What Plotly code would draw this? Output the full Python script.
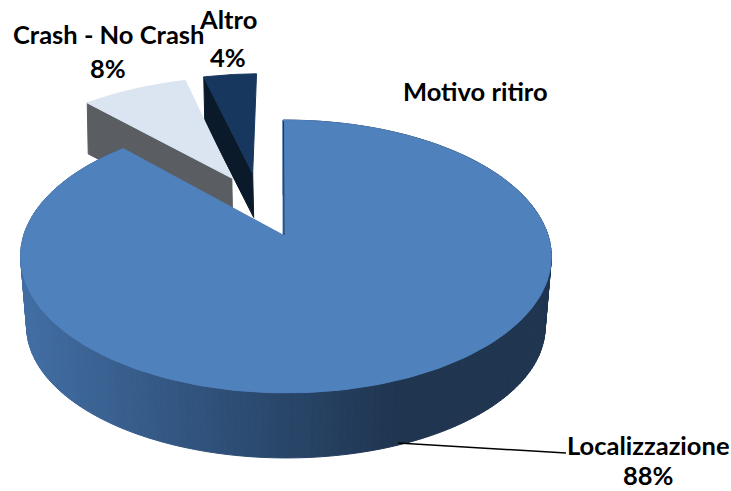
import numpy as np
import plotly.graph_objects as go

# Motivo ritiro - 3D exploded pie, plotly has no 3D pie so it is projected by hand
categories = ["Localizzazione", "Crash - No Crash", "Altro"]
values = [88, 8, 4]
chart_title = "Motivo ritiro"

face_colors = ["#4f81bd", "#dbe5f1", "#17375e"]
wall_colors = [None, "#5a5d62", "#0b1a2a"]

# perspective of the top plane (pixels)
APEX_X, APEX_Y = 283, 235
RADIUS_X, RADIUS_Y = 262, 133
PERSP_V, PERSP_U = 0.1575, 0.011

# explode offset of every slice in disc units, and bottom plane of the slice
explode = [(0, 0), (-0.21, -0.46), (-0.125, -0.50)]
bottom_plane = [(283, 306, 256, 128), (284, 286, 262, 133), (284, 279, 262, 133)]


def project(u, v, ax=APEX_X, ay=APEX_Y, rx=RADIUS_X, ry=RADIUS_Y):
    w = 1 - PERSP_V * v - PERSP_U * u
    return ax + rx * u / w, ay + ry * v / w


def polygon(x, y, color):
    return go.Scatter(x=list(x), y=list(y), mode="lines", fill="toself", fillcolor=color,
                      line=dict(color=color, width=1), hoverinfo="skip", showlegend=False)


def side_color(x):
    # shading of the round side runs from left to right
    stops_x = [21, 200, 400, 551]
    r = np.interp(x, stops_x, [66, 48, 31, 31])
    g = np.interp(x, stops_x, [110, 82, 53, 53])
    b = np.interp(x, stops_x, [164, 124, 80, 80])
    return f"rgb({r:.0f},{g:.0f},{b:.0f})"


# slice angles, clockwise from twelve o'clock
edges = np.cumsum([0] + values) / sum(values) * 2 * np.pi
slices = []
for i in range(len(values)):
    t = np.linspace(edges[i], edges[i + 1], 240 if i == 0 else 30)
    du, dv = explode[i]
    u = np.concatenate([[du], du + np.sin(t), [du]])
    v = np.concatenate([[dv], dv - np.cos(t), [dv]])
    slices.append((u, v))

fig = go.Figure()

# back slices first, main one on top
for i in [2, 1]:
    u, v = slices[i]
    tx, ty = project(u, v)
    bx, by = project(u, v, *bottom_plane[i])
    # only the cut wall facing the viewer shows: apex to first rim point
    fig.add_trace(polygon([tx[0], tx[1], bx[1], bx[0], tx[0]],
                          [ty[0], ty[1], by[1], by[0], ty[0]], wall_colors[i]))
    fig.add_trace(polygon(tx, ty, face_colors[i]))

u, v = slices[0]
tx, ty = project(u, v)
bx, by = project(u, v, *bottom_plane[0])
for j in range(1, len(u) - 2):
    fig.add_trace(polygon([tx[j], tx[j + 1], bx[j + 1], bx[j], tx[j]],
                          [ty[j], ty[j + 1], by[j + 1], by[j], ty[j]],
                          side_color((tx[j] + tx[j + 1]) / 2)))
fig.add_trace(polygon(tx, ty, face_colors[0]))
# thin dark edge of the cut at twelve o'clock
fig.add_trace(go.Scatter(x=[tx[1] + 0.5, tx[0] + 1], y=[ty[1] + 1, ty[0]], mode="lines",
                         line=dict(color="#1f3550", width=1), hoverinfo="skip", showlegend=False))

# leader line of the big slice
fig.add_trace(go.Scatter(x=[398, 560, 566], y=[443, 453, 453], mode="lines",
                         line=dict(color="black", width=1.5), hoverinfo="skip", showlegend=False))

label_font = dict(family="Lato", size=25.5, color="black", weight="bold")
label_pos = [(648, 445, 475), (108, 34, 68), (228, 19, 57)]
for i, (x, y1, y2) in enumerate(label_pos):
    fig.add_annotation(x=x, y=y1, text=categories[i], showarrow=False, font=label_font)
    fig.add_annotation(x=x, y=y2, text=f"{values[i]}%", showarrow=False, font=label_font)
fig.add_annotation(x=475, y=91, text=chart_title, showarrow=False, font=label_font)

fig.update_layout(
    width=731, height=491, margin=dict(l=0, r=0, t=0, b=0),
    paper_bgcolor="white", plot_bgcolor="white", showlegend=False,
    xaxis=dict(range=[0, 731], visible=False),
    yaxis=dict(range=[491, 0], visible=False),
)

# drop the browser's default body margin so the figure fills the window
fig.write_html("out.html", config={"displayModeBar": False},
               post_script="document.body.style.margin = '0';")
